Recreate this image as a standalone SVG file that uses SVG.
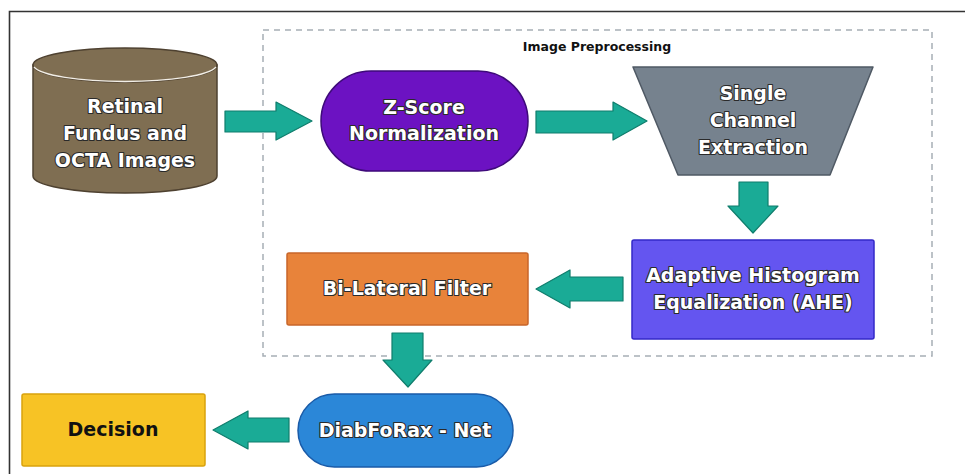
<svg xmlns="http://www.w3.org/2000/svg" width="965" height="474" viewBox="0 0 965 474">
<style>
.lbl{font-family:"DejaVu Sans","Open Sans",sans-serif;font-weight:bold;font-size:19px;fill:#ffffff;stroke:#2a2a2a;stroke-width:2.2px;paint-order:stroke;stroke-linejoin:round;text-anchor:middle;dominant-baseline:central}
.dark{fill:#111111;stroke:none}
.arrow{fill:#1aab96;stroke:#0f7d6c;stroke-width:1.2;stroke-linejoin:round}
.title{font-family:"DejaVu Sans","Open Sans",sans-serif;font-weight:bold;font-size:12.5px;fill:#111;text-anchor:middle;dominant-baseline:central}
</style>
<rect width="965" height="474" fill="#ffffff"/>
<path d="M9.5 474 V11.5 H965" fill="none" stroke="#333" stroke-width="1.6"/>
<g id="preprocessing">
<rect x="263" y="30" width="669" height="326" fill="none" stroke="#a7aeb5" stroke-width="1.5" stroke-dasharray="6,5"/>
<text class="title" x="597" y="46">Image Preprocessing</text>
</g>
<g id="connectors">
<path class="arrow" d="M225 111 H276 V102 L312 121 L276 140 V132 H225 Z"/>
<path class="arrow" d="M536 111 H613 V102 L647 121 L613 140 V133 H536 Z"/>
<path class="arrow" d="M739 182 H768 V206 H778 L753 233 L728 206 H739 Z"/>
<path class="arrow" d="M623 277 V301 H570 V308 L536 289 L570 270 V277 Z"/>
<path class="arrow" d="M392 333 H423 V360 H432 L408 387 L383 360 H392 Z"/>
<path class="arrow" d="M289 418 V442 H248 V449 L213 430 L248 411 V418 Z"/>
</g>
<g id="retinal">
<path d="M33 65 V176 A92 17 0 0 0 217 176 V65 Z" fill="#7f6e52" stroke="#4e4130" stroke-width="1.5"/>
<ellipse cx="125" cy="65" rx="92" ry="17" fill="#7f6e52" stroke="#4e4130" stroke-width="1.5"/>
<path d="M34 67 A92 17 0 0 0 216 67" fill="none" stroke="#f2eee6" stroke-width="1.3"/>
<text class="lbl" x="125" y="106">Retinal</text>
<text class="lbl" x="125" y="133">Fundus and</text>
<text class="lbl" x="125" y="160">OCTA Images</text>
</g>
<g id="zscore">
<rect x="321" y="71" width="207" height="100" rx="50" ry="50" fill="#6c12c2" stroke="#3e0a7a" stroke-width="1.5"/>
<text class="lbl" x="424" y="107">Z-Score</text>
<text class="lbl" x="424" y="133">Normalization</text>
</g>
<g id="single">
<path d="M633 67 H873 L830 175 H678 Z" fill="#76828e" stroke="#4f5964" stroke-width="1.5" stroke-linejoin="round"/>
<text class="lbl" x="753" y="93">Single</text>
<text class="lbl" x="753" y="120">Channel</text>
<text class="lbl" x="753" y="147">Extraction</text>
</g>
<g id="ahe">
<rect x="632" y="240" width="242" height="99" rx="2" fill="#6455f0" stroke="#3328c8" stroke-width="1.5"/>
<text class="lbl" x="753" y="275">Adaptive Histogram</text>
<text class="lbl" x="753" y="302">Equalization (AHE)</text>
</g>
<g id="bilateral">
<rect x="287" y="253" width="241" height="72" rx="2" fill="#e8833a" stroke="#c8662a" stroke-width="1.5"/>
<text class="lbl" x="407" y="288">Bi-Lateral Filter</text>
</g>
<g id="diabforax">
<rect x="298" y="394" width="215" height="73" rx="36.5" ry="36.5" fill="#2b87d8" stroke="#1a5ba8" stroke-width="1.5"/>
<text class="lbl" x="405" y="430">DiabFoRax - Net</text>
</g>
<g id="decision">
<rect x="22" y="394" width="183" height="72" rx="2" fill="#f7c325" stroke="#d9a20c" stroke-width="1.5"/>
<text class="lbl dark" x="113" y="429">Decision</text>
</g>
</svg>
